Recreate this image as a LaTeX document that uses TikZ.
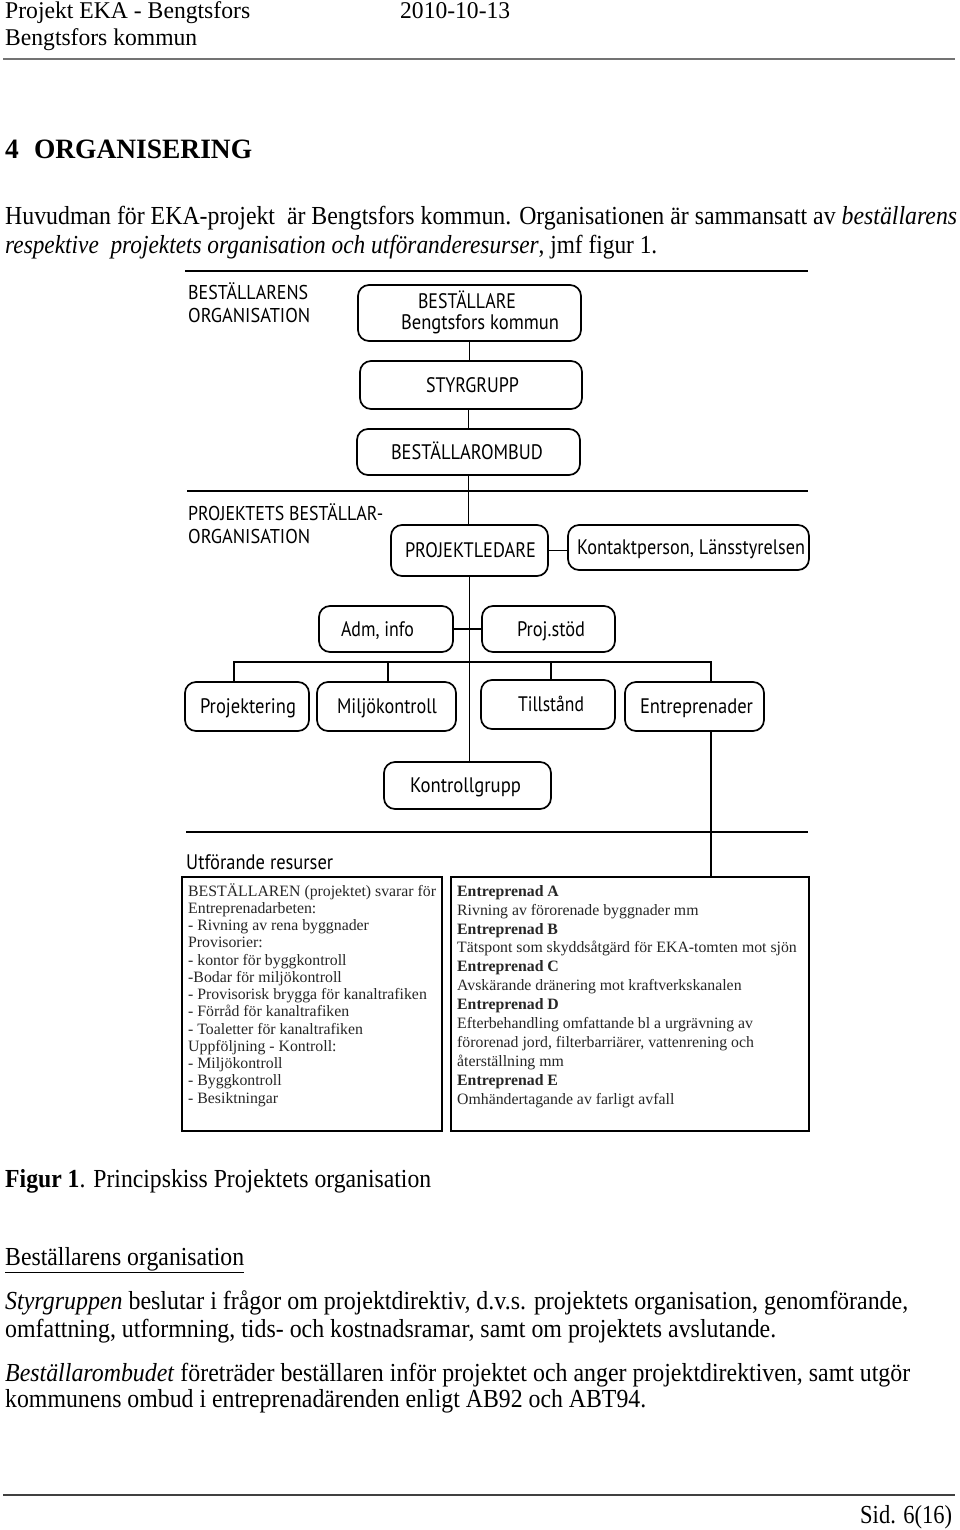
\documentclass[tikz,border=0pt]{standalone}
\usepackage{fontspec}
\usepackage{graphicx}
\setmainfont{Liberation Serif}
\newfontfamily\dsans{PT Sans}
\newcommand\fw[2]{\resizebox{#1}{\height}{#2}}
\newcommand\bt[3]{\makebox[0pt]{\kern#1\fw{#2}{#3}}}
\tikzset{
  dbox/.style={draw, line width=1.7pt, rounded corners=11pt, inner sep=0pt,
    font=\dsans\fontsize{21}{23}\selectfont, text height=14.5pt, text depth=0pt},
  bline/.style={line width=1.5pt},
  drule/.style={line width=1.8pt},
  txt/.style={anchor=base west, inner sep=0pt},
  bodyf/.style={font=\fontsize{26}{30}\selectfont},
  lab/.style={txt, font=\dsans\fontsize{20}{22}\selectfont},
  frame/.style={draw, line width=1.8pt, inner sep=0pt},
  listf/.style={anchor=north west, inner sep=0pt, align=left, text=black!85}
}
\begin{document}
\begin{tikzpicture}[x=1pt,y=-1pt]
\useasboundingbox[fill=white] (0,0) rectangle (960,1530);

% header
\node[txt, font=\fontsize{24}{27}\selectfont] (h1) at (5,19) {\fw{245pt}{Projekt EKA - Bengtsfors}};
\node[txt, font=\fontsize{24}{27}\selectfont] (h2) at (400,19) {\fw{110pt}{2010-10-13}};
\node[txt, font=\fontsize{24}{27}\selectfont] (h3) at (5,46) {\fw{192pt}{Bengtsfors kommun}};
\draw[line width=1.5pt, black!55] (3,59) -- (955,59);

\node[txt, font=\bfseries\fontsize{28}{31}\selectfont] (h4) at (5,159) {\fw{247pt}{4\hspace{0.55em}ORGANISERING}};
\node[txt, bodyf] (p1) at (5,225) {\fw{952pt}{Huvudman för EKA-projekt\ \ är Bengtsfors kommun. Organisationen är sammansatt av \textit{beställarens}}};
\node[txt, bodyf] (p2) at (5,254) {\fw{652pt}{\textit{respektive\ \ projektets organisation och utföranderesurser}, jmf figur 1.}};

% diagram rules
\draw[drule] (185,271) -- (808,271);
\draw[drule] (187,491) -- (808,491);
\draw[drule] (186,832) -- (808,832);

% section labels
\node[lab] (l1) at (188,299) {\fw{120pt}{BESTÄLLARENS}};
\node[lab] (l2) at (188,322) {\fw{122pt}{ORGANISATION}};
\node[lab] (l3) at (188,520) {\fw{195pt}{PROJEKTETS BESTÄLLAR-}};
\node[lab] (l4) at (188,543) {\fw{122pt}{ORGANISATION}};
\node[lab, font=\dsans\fontsize{21}{23}\selectfont] (l5) at (186,869) {\fw{147pt}{Utförande resurser}};

% boxes
\node[dbox, minimum width=223pt, minimum height=56pt, text height=6pt, text depth=16pt] (best) at (469.5,313)
  {\bt{-5pt}{98pt}{BESTÄLLARE}\makebox[0pt]{\raisebox{-21pt}{\kern21pt\fw{158pt}{Bengtsfors kommun}}}};
\node[dbox, minimum width=222pt, minimum height=48pt] (styr) at (471,385) {\bt{3pt}{93pt}{STYRGRUPP}};
\node[dbox, minimum width=223pt, minimum height=46pt] (ombud) at (468.5,452) {\bt{-3pt}{152pt}{BESTÄLLAROMBUD}};
\node[dbox, minimum width=157pt, minimum height=51pt] (pl) at (469.5,550.5) {\bt{2pt}{131pt}{PROJEKTLEDARE}};
\node[dbox, minimum width=241pt, minimum height=45pt] (kontakt) at (688.5,547.5) {\bt{5pt}{228pt}{Kontaktperson, Länsstyrelsen}};
\node[dbox, minimum width=134pt, minimum height=46pt] (adm) at (386,629) {\bt{-17pt}{73pt}{Adm, info}};
\node[dbox, minimum width=133pt, minimum height=46pt] (projstod) at (548.5,629) {\bt{5pt}{68pt}{Proj.stöd}};
\node[dbox, minimum width=124pt, minimum height=49pt] (projk) at (247,706.5) {\bt{2pt}{96pt}{Projektering}};
\node[dbox, minimum width=139pt, minimum height=49pt] (miljo) at (386.5,706.5) {\bt{1pt}{100pt}{Miljökontroll}};
\node[dbox, minimum width=134pt, minimum height=49pt] (till) at (548,704.5) {\bt{6pt}{66pt}{Tillstånd}};
\node[dbox, minimum width=139pt, minimum height=49pt] (entre) at (694.5,706.5) {\bt{4pt}{113pt}{Entreprenader}};
\node[dbox, minimum width=167pt, minimum height=47pt] (kontroll) at (467.5,785.5) {\bt{-4pt}{111pt}{Kontrollgrupp}};

% resource frames
\node[frame, minimum width=260pt, minimum height=254pt] (lbox) at (312,1004) {};
\node[frame, minimum width=358pt, minimum height=254pt] (rbox) at (630,1004) {};

\node[listf, font=\fontsize{15.8}{17.25}\selectfont] (ltext) at (188,882) {%
\rule{0pt}{14pt}BESTÄLLAREN (projektet) svarar för\\
Entreprenadarbeten:\\
- Rivning av rena byggnader\\
Provisorier:\\
- kontor för byggkontroll\\
-Bodar för miljökontroll\\
- Provisorisk brygga för kanaltrafiken\\
- Förråd för kanaltrafiken\\
- Toaletter för kanaltrafiken\\
Uppföljning - Kontroll:\\
- Miljökontroll\\
- Byggkontroll\\
- Besiktningar};

\node[listf, font=\fontsize{15.8}{18.9}\selectfont] (rtext) at (457,882) {%
\rule{0pt}{14pt}\textbf{Entreprenad A}\\
Rivning av förorenade byggnader mm\\
\textbf{Entreprenad B}\\
Tätspont som skyddsåtgärd för EKA-tomten mot sjön\\
\textbf{Entreprenad C}\\
Avskärande dränering mot kraftverkskanalen\\
\textbf{Entreprenad D}\\
Efterbehandling omfattande bl a urgrävning av\\
förorenad jord, filterbarriärer, vattenrening och\\
återställning mm\\
\textbf{Entreprenad E}\\
Omhändertagande av farligt avfall};

% connectors
\coordinate (bus) at (468,662);
\draw[bline] (best.south) -- (best.south |- styr.north);
\draw[bline] (ombud.north |- styr.south) -- (ombud.north);
\draw[bline] (ombud.south) -- (ombud.south |- pl.north);
\draw[bline] (pl.east) -- (pl.east -| kontakt.west);
\draw[bline] (pl.south) -- (pl.south |- kontroll.north);
\draw[bline] (adm.east) -- (adm.east -| projstod.west);
\draw[bline] ([xshift=-13pt]projk.north) -- ([xshift=-13pt]projk.north |- bus) -- ([xshift=16.5pt]entre.north |- bus) -- ([xshift=16.5pt]entre.north);
\draw[bline] ([xshift=1.5pt]miljo.north) -- ([xshift=1.5pt]miljo.north |- bus);
\draw[bline] ([xshift=3pt]till.north) -- ([xshift=3pt]till.north |- bus);
\draw[bline] ([xshift=16.5pt]entre.south) -- ([xshift=16.5pt]entre.south |- rbox.north);

% caption and text
\node[txt, bodyf] (cap) at (5,1187) {\fw{426pt}{\textbf{Figur 1}. Principskiss Projektets organisation}};
\node[txt, bodyf] (s1) at (5,1265) {\fw{239pt}{\underline{Beställarens organisation}}};
\node[txt, bodyf] (t1) at (5,1309) {\fw{903pt}{\textit{Styrgruppen} beslutar i frågor om projektdirektiv, d.v.s. projektets organisation, genomförande,}};
\node[txt, bodyf] (t2) at (5,1337) {\fw{771pt}{omfattning, utformning, tids- och kostnadsramar, samt om projektets avslutande.}};
\node[txt, bodyf] (t3) at (5,1381) {\fw{905pt}{\textit{Beställarombudet} företräder beställaren inför projektet och anger projektdirektiven, samt utgör}};
\node[txt, bodyf] (t4) at (5,1407) {\fw{641pt}{kommunens ombud i entreprenadärenden enligt AB92 och ABT94.}};

\draw[line width=2.5pt, black!75] (3,1495) -- (955,1495);
\node[txt, bodyf] (sid) at (860,1523) {\fw{92pt}{Sid. 6(16)}};
\end{tikzpicture}
\end{document}
